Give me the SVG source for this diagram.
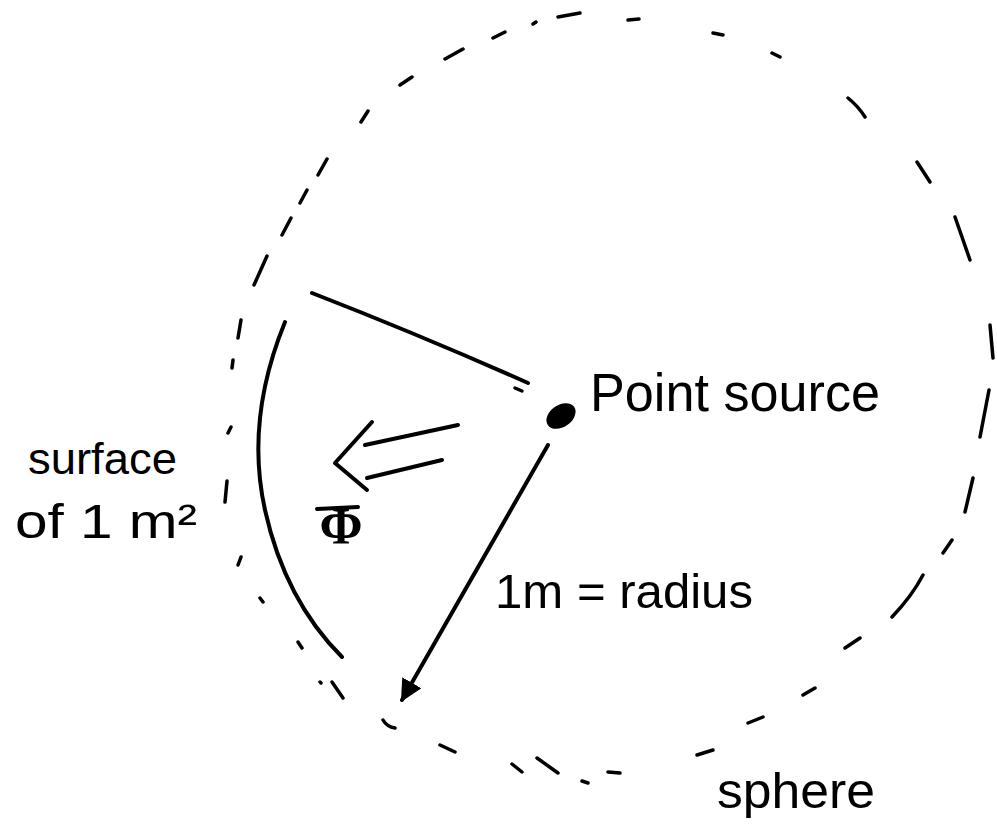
<svg xmlns="http://www.w3.org/2000/svg" width="997" height="830" viewBox="0 0 997 830">
<style>
.bg{fill:#ffffff}
.dash{stroke:#000;stroke-width:3.5;stroke-linecap:round;fill:none}
.solid{stroke:#000;stroke-width:4;stroke-linecap:round;stroke-linejoin:round;fill:none}
.hand{font-family:"Liberation Sans","Open Sans",sans-serif;fill:#000}
.sym{font-family:"Liberation Serif","DejaVu Serif",serif;fill:#000;font-weight:bold}
</style>
<defs>
<marker id="arr" viewBox="0 0 10 10" refX="9" refY="5" markerWidth="5.5" markerHeight="5.5" orient="auto" markerUnits="strokeWidth">
<path d="M0,0 L10,5 L0,10 Z" fill="#000"/>
</marker>
</defs>
<rect class="bg" x="0" y="0" width="997" height="830"/>
<g id="sphere">
<path class="dash" d="M558,17 L580,13 M533,24 L536,22 M493,38 L505,32 M445,59 L463,49 M400,85 L412,77 M361,122 L368,111 M318,175 L327,159 M300,203 L307,190 M282,235 L291,218 M254,285 L267,256 M238,338 L241,320 M232,368 L233,360 M228,433 L231,427 M225,502 L227,481 M238,565 L241,557 M260,598 L263,602 M298,642 L302,648 M320,682 L321,683 M332,682 L343,698 M383,720 Q387,727 395,728 M440,745 L455,752 M512,764 L522,772 M537,758 L558,773 M582,781 L588,783 M608,772 L620,773 M697,755 L713,750 M748,723 L763,717 M803,695 L815,688 M845,648 L860,638 M892,617 Q912,596 923,575 M943,553 L952,540 M965,512 L973,478 M980,437 L989,390 M990,325 L993,358 M955,217 L970,260 M917,162 L930,182 M848,98 Q858,106 865,117 M772,53 L780,57 M713,33 L723,35 M628,20 L639,19"/>
<text class="hand" x="717" y="808" font-size="50" textLength="158" lengthAdjust="spacingAndGlyphs">sphere</text>
</g>
<g id="surface">
<path class="solid" d="M285,322 Q245,420 265,510 Q285,600 342,657"/>
<text class="hand" x="28" y="474" font-size="44" textLength="149" lengthAdjust="spacingAndGlyphs">surface</text>
<text class="hand" x="15" y="538" font-size="48" textLength="182" lengthAdjust="spacingAndGlyphs">of 1 m²</text>
</g>
<g id="point-source">
<ellipse cx="561" cy="416" rx="16" ry="11" transform="rotate(-35 561 416)" fill="#000"/>
<text class="hand" x="590" y="411" font-size="54" textLength="290" lengthAdjust="spacingAndGlyphs">Point source</text>
</g>
<g id="flux">
<path class="solid" d="M372,422 L335,463 L367,490"/>
<path class="solid" d="M365,445 L458,425 M367,478 L442,460"/>
<text class="sym" x="341" y="544" font-size="52" text-anchor="middle">Φ</text>
<path class="solid" d="M317,509 L358,507" stroke-width="2.5"/>
</g>
<g id="connectors">
<path class="solid" d="M312,293 Q420,335 528,383"/>
<path class="dash" d="M515,388 L522,391"/>
<path class="solid" d="M548,445 L402,700" marker-end="url(#arr)"/>
<text class="hand" x="495" y="608" font-size="48" textLength="258" lengthAdjust="spacingAndGlyphs">1m = radius</text>
</g>
</svg>
